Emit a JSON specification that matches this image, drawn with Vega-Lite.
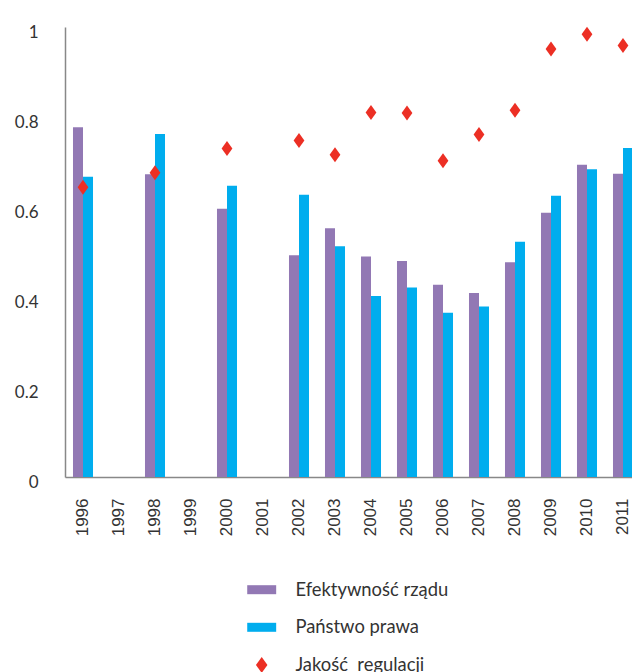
{
  "$schema": "https://vega.github.io/schema/vega-lite/v6.json",
  "autosize": {"type": "none"},
  "padding": {"left": 65, "top": 27, "right": 0, "bottom": 195},
  "width": 567,
  "height": 450,
  "background": "white",
  "config": {
    "view": {"stroke": null},
    "axis": {"grid": false, "ticks": false, "domainColor": "#888888", "domainWidth": 1.5, "title": null}
  },
  "datasets": {
    "bars": [
      {"year": "1996", "series": "Efektywność rządu", "value": 0.777},
      {"year": "1996", "series": "Państwo prawa", "value": 0.667},
      {"year": "1998", "series": "Efektywność rządu", "value": 0.673},
      {"year": "1998", "series": "Państwo prawa", "value": 0.762},
      {"year": "2000", "series": "Efektywność rządu", "value": 0.596},
      {"year": "2000", "series": "Państwo prawa", "value": 0.647},
      {"year": "2002", "series": "Efektywność rządu", "value": 0.493},
      {"year": "2002", "series": "Państwo prawa", "value": 0.627},
      {"year": "2003", "series": "Efektywność rządu", "value": 0.553},
      {"year": "2003", "series": "Państwo prawa", "value": 0.513},
      {"year": "2004", "series": "Efektywność rządu", "value": 0.490},
      {"year": "2004", "series": "Państwo prawa", "value": 0.402},
      {"year": "2005", "series": "Efektywność rządu", "value": 0.480},
      {"year": "2005", "series": "Państwo prawa", "value": 0.421},
      {"year": "2006", "series": "Efektywność rządu", "value": 0.427},
      {"year": "2006", "series": "Państwo prawa", "value": 0.365},
      {"year": "2007", "series": "Efektywność rządu", "value": 0.409},
      {"year": "2007", "series": "Państwo prawa", "value": 0.379},
      {"year": "2008", "series": "Efektywność rządu", "value": 0.477},
      {"year": "2008", "series": "Państwo prawa", "value": 0.523},
      {"year": "2009", "series": "Efektywność rządu", "value": 0.587},
      {"year": "2009", "series": "Państwo prawa", "value": 0.625},
      {"year": "2010", "series": "Efektywność rządu", "value": 0.694},
      {"year": "2010", "series": "Państwo prawa", "value": 0.684},
      {"year": "2011", "series": "Efektywność rządu", "value": 0.674},
      {"year": "2011", "series": "Państwo prawa", "value": 0.731}
    ],
    "points": [
      {"year": "1996", "series": "Jakość\u00a0 regulacji", "value": 0.644},
      {"year": "1998", "series": "Jakość\u00a0 regulacji", "value": 0.676},
      {"year": "2000", "series": "Jakość\u00a0 regulacji", "value": 0.730},
      {"year": "2002", "series": "Jakość\u00a0 regulacji", "value": 0.748},
      {"year": "2003", "series": "Jakość\u00a0 regulacji", "value": 0.716},
      {"year": "2004", "series": "Jakość\u00a0 regulacji", "value": 0.810},
      {"year": "2005", "series": "Jakość\u00a0 regulacji", "value": 0.809},
      {"year": "2006", "series": "Jakość\u00a0 regulacji", "value": 0.703},
      {"year": "2007", "series": "Jakość\u00a0 regulacji", "value": 0.761},
      {"year": "2008", "series": "Jakość\u00a0 regulacji", "value": 0.815},
      {"year": "2009", "series": "Jakość\u00a0 regulacji", "value": 0.951},
      {"year": "2010", "series": "Jakość\u00a0 regulacji", "value": 0.984},
      {"year": "2011", "series": "Jakość\u00a0 regulacji", "value": 0.959}
    ]
  },
  "encoding": {
    "x": {
      "field": "year", "type": "nominal",
      "scale": {"domain": ["1996","1997","1998","1999","2000","2001","2002","2003","2004","2005","2006","2007","2008","2009","2010","2011"], "range": [0, 576], "paddingInner": 0.444, "paddingOuter": 0.222},
      "axis": {"labelAngle": -90, "labelFont": "Liberation Sans", "labelFontSize": 17, "labelColor": "#333333", "labelPadding": 21}
    },
    "y": {
      "field": "value", "type": "quantitative",
      "scale": {"domain": [0, 1], "nice": false, "zero": true},
      "axis": {"values": [0, 0.2, 0.4, 0.6, 0.8, 1], "format": "~g", "labelFont": "Lato", "labelFontSize": 17, "labelColor": "#333333", "labelPadding": 27, "labelOffset": 5}
    },
    "color": {
      "field": "series", "type": "nominal",
      "scale": {"domain": ["Efektywność rządu", "Państwo prawa", "Jakość\u00a0 regulacji"], "range": ["#9278b4", "#00adee", "#ec2f24"]},
      "legend": {
        "title": null, "orient": "none", "legendX": 187.5, "legendY": 553.5, "direction": "vertical",
        "labelFont": "Lato", "labelFontSize": 18.4, "labelColor": "#333333", "labelOffset": 24.5,
        "symbolSize": 256, "rowPadding": 18.6, "padding": 0, "symbolStrokeWidth": 0, "symbolOpacity": 1
      }
    }
  },
  "layer": [
    {
      "data": {"name": "bars"},
      "mark": {"type": "bar", "opacity": 1},
      "encoding": {
        "xOffset": {"field": "series", "type": "nominal", "scale": {"domain": ["Efektywność rządu", "Państwo prawa"], "paddingInner": 0, "paddingOuter": 0}}
      }
    },
    {
      "data": {"name": "points"},
      "mark": {"type": "point", "filled": true, "opacity": 1, "size": 225, "strokeWidth": 0},
      "encoding": {
        "shape": {
          "field": "series", "type": "nominal",
          "scale": {"domain": ["Efektywność rządu", "Państwo prawa", "Jakość\u00a0 regulacji"], "range": ["M-1.81,-0.5625H1.81V0.5625H-1.81Z", "M-1.81,-0.5625H1.81V0.5625H-1.81Z", "M0,-1L0.72,0L0,1L-0.72,0Z"]},
          "legend": {
            "title": null, "orient": "none", "legendX": 187.5, "legendY": 553.5, "direction": "vertical",
            "labelFont": "Lato", "labelFontSize": 18.4, "labelColor": "#333333", "labelOffset": 24.5,
            "symbolSize": 256, "rowPadding": 18.6, "padding": 0, "symbolStrokeWidth": 0, "symbolOpacity": 1
          }
        }
      }
    }
  ]
}
